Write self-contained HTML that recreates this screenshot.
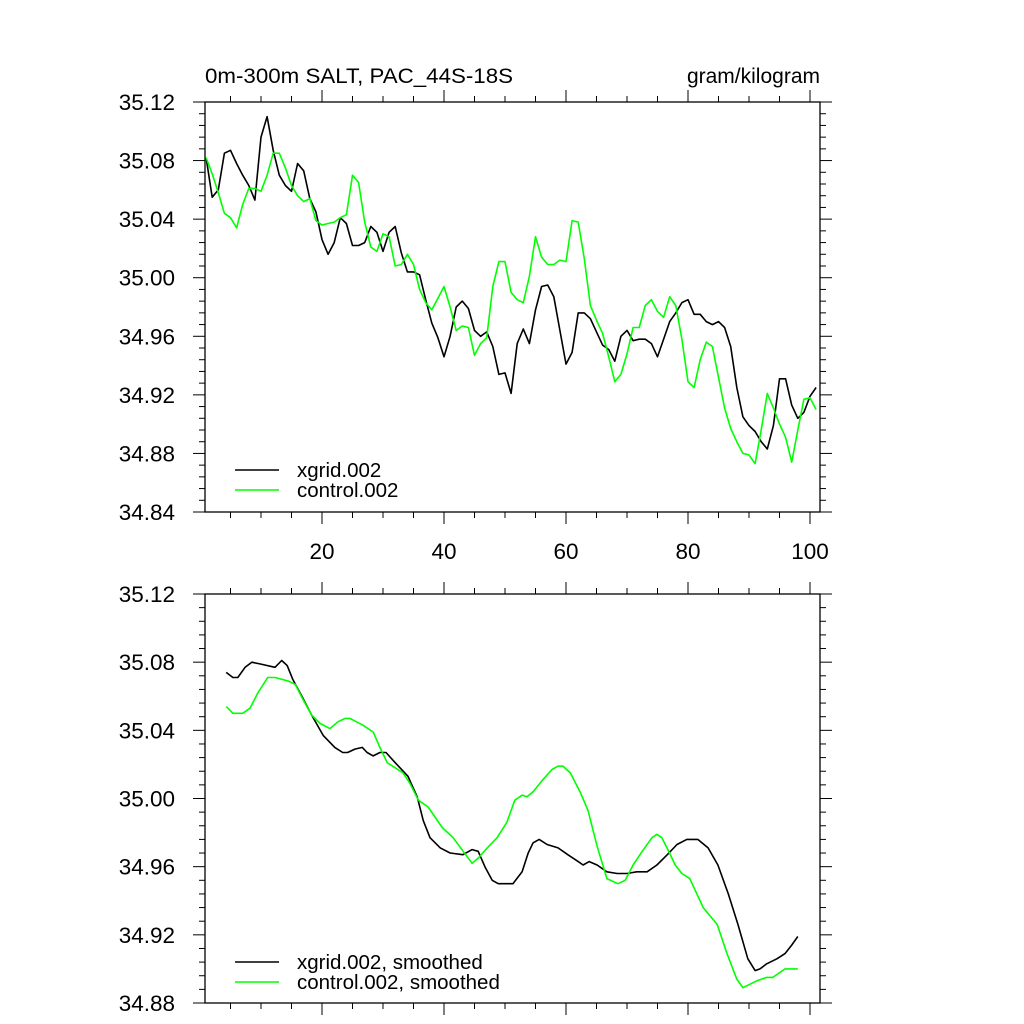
<!DOCTYPE html>
<html><head><meta charset="utf-8"><style>
body{margin:0;background:#fff}
svg{display:block}
text{font-family:"Liberation Sans",sans-serif;fill:#000}
</style></head><body>
<svg id="chart" width="1024" height="1024" viewBox="0 0 1024 1024"></svg>
<script>
const topX = [];
for (let i = 1; i <= 101; i++) topX.push(i);
const xgridRaw = [35.082,35.055,35.060,35.085,35.087,35.078,35.070,35.063,35.053,35.096,35.110,35.087,35.070,35.063,35.059,35.078,35.073,35.054,35.045,35.026,35.016,35.024,35.041,35.037,35.022,35.022,35.024,35.035,35.031,35.018,35.031,35.035,35.017,35.004,35.004,35.002,34.985,34.969,34.959,34.946,34.960,34.980,34.984,34.979,34.964,34.960,34.963,34.953,34.934,34.935,34.921,34.955,34.965,34.955,34.978,34.994,34.995,34.987,34.964,34.941,34.949,34.976,34.976,34.972,34.963,34.954,34.951,34.943,34.960,34.964,34.957,34.958,34.958,34.955,34.946,34.958,34.970,34.976,34.983,34.985,34.975,34.975,34.970,34.968,34.970,34.966,34.953,34.925,34.905,34.899,34.895,34.888,34.883,34.899,34.931,34.931,34.913,34.904,34.908,34.919,34.925];
const controlRaw = [35.082,35.071,35.058,35.044,35.041,35.034,35.050,35.061,35.061,35.059,35.070,35.085,35.085,35.075,35.063,35.056,35.052,35.054,35.039,35.036,35.037,35.038,35.041,35.043,35.070,35.065,35.038,35.021,35.018,35.030,35.028,35.008,35.009,35.016,35.009,34.992,34.983,34.978,34.986,34.994,34.980,34.964,34.967,34.966,34.947,34.955,34.959,34.994,35.011,35.011,34.990,34.985,34.983,35.001,35.028,35.014,35.009,35.009,35.012,35.011,35.039,35.038,35.013,34.981,34.971,34.962,34.946,34.929,34.934,34.948,34.966,34.966,34.981,34.985,34.977,34.973,34.987,34.981,34.958,34.929,34.925,34.944,34.956,34.953,34.932,34.911,34.897,34.888,34.880,34.879,34.873,34.896,34.921,34.911,34.900,34.891,34.874,34.896,34.917,34.918,34.910];
const xgridSmX = [4.3,5.4,6.2,7.4,8.5,9.8,12.3,13.4,14.3,15.2,16.7,18.3,20.2,22.1,23.4,24.2,25.4,26.6,27.4,28.4,29.5,30.5,32.0,34.1,35.6,36.6,37.7,39.4,41.0,43.1,44.6,45.6,46.7,47.9,48.9,50.3,51.3,52.8,53.8,54.6,55.6,56.9,58.7,60.3,62.0,62.8,63.8,65.1,66.7,68.4,70.0,71.6,73.3,74.9,76.6,78.2,79.8,81.6,83.3,84.9,86.6,88.2,89.8,91.0,91.8,92.9,94.6,95.9,97.0,98.0];
const xgridSm = [35.074,35.071,35.071,35.077,35.080,35.079,35.077,35.081,35.078,35.070,35.060,35.049,35.037,35.030,35.027,35.027,35.029,35.030,35.027,35.025,35.027,35.027,35.021,35.013,35.001,34.987,34.977,34.971,34.968,34.967,34.970,34.969,34.960,34.952,34.950,34.950,34.950,34.957,34.968,34.974,34.976,34.973,34.971,34.967,34.963,34.961,34.963,34.961,34.957,34.956,34.956,34.957,34.957,34.961,34.967,34.973,34.976,34.976,34.971,34.961,34.944,34.926,34.906,34.899,34.900,34.903,34.906,34.909,34.914,34.919];
const controlSmX = [4.3,5.4,7.0,8.2,9.5,11.1,12.3,14.4,15.6,16.9,18.3,19.7,21.3,22.6,23.8,24.6,26.7,28.4,29.5,30.7,32.0,33.3,34.4,35.8,37.4,39.7,41.5,44.6,45.6,47.1,48.7,50.3,51.6,52.8,53.6,54.6,56.2,57.7,58.7,59.5,60.7,62.3,63.6,65.1,66.7,68.5,69.7,71.0,72.5,74.1,74.9,75.7,76.7,77.9,79.0,80.3,82.5,84.8,86.4,88.0,89.0,91.3,92.9,93.9,95.9,98.0];
const controlSm = [35.054,35.050,35.050,35.053,35.062,35.071,35.071,35.069,35.067,35.058,35.049,35.044,35.041,35.045,35.047,35.047,35.043,35.039,35.030,35.021,35.018,35.015,35.009,34.999,34.995,34.983,34.977,34.962,34.965,34.971,34.977,34.986,34.999,35.002,35.001,35.004,35.011,35.017,35.019,35.019,35.015,35.004,34.993,34.972,34.953,34.950,34.952,34.961,34.969,34.977,34.979,34.977,34.970,34.961,34.956,34.953,34.936,34.926,34.909,34.894,34.889,34.893,34.895,34.895,34.900,34.900];
const yTicksTop = [34.84,34.88,34.92,34.96,35.00,35.04,35.08,35.12];
const yTicksBot = [34.88,34.92,34.96,35.00,35.04,35.08,35.12];
const xTickLabels = [20,40,60,80,100];

const NS = "http://www.w3.org/2000/svg";
const svg = document.getElementById('chart');
function mk(tag, attrs, parent) {
  const e = document.createElementNS(NS, tag);
  for (const k in attrs) e.setAttribute(k, attrs[k]);
  (parent || svg).appendChild(e);
  return e;
}
const L = 205, R = 820, XMIN = 0.82, XMAX = 101.64;
const sx = x => L + (x - XMIN) / (XMAX - XMIN) * (R - L);

function panel(name, T, B, ymin, ymax, yticks, showXLabels) {
  const g = mk('g', {});
  
  
  const sy = v => B - (v - ymin) / (ymax - ymin) * (B - T);
  const fr = mk('rect', {x: L, y: T, width: R - L, height: B - T, fill: 'none', stroke: '#000', 'stroke-width': 1.3}, g);
  
  
  for (let v = ymin; v <= ymax + 1e-9; v += 0.008) {
    const major = Math.abs(Math.round(v / 0.04) * 0.04 - v) < 1e-6;
    const len = major ? 12 : 6;
    const y = sy(v);
    mk('line', {x1: L - len, x2: L, y1: y, y2: y, stroke: '#000', 'stroke-width': 1}, g);
    mk('line', {x1: R, x2: R + len, y1: y, y2: y, stroke: '#000', 'stroke-width': 1}, g);
  }
  yticks.forEach(v => {
    const t = mk('text', {x: 175, y: sy(v) + 8, 'text-anchor': 'end', 'font-size': 22.5}, g);
    t.textContent = v.toFixed(2);
    
    
  });
  for (let x = 5; x <= 100; x += 5) {
    const major = x % 20 === 0;
    const len = major ? 12 : 6;
    const px = sx(x);
    mk('line', {x1: px, x2: px, y1: T - len, y2: T, stroke: '#000', 'stroke-width': 1}, g);
    mk('line', {x1: px, x2: px, y1: B, y2: B + len, stroke: '#000', 'stroke-width': 1}, g);
  }
  if (showXLabels) {
    xTickLabels.forEach(x => {
      const t = mk('text', {x: sx(x), y: B + 47, 'text-anchor': 'middle', 'font-size': 22.5}, g);
      t.textContent = x;
      
      
    });
  }
  return {g, sy};
}
function series(p, xs, ys, color, name) {
  const pts = xs.map((x, i) => sx(x).toFixed(1) + ',' + p.sy(ys[i]).toFixed(1)).join(' ');
  const pl = mk('polyline', {points: pts, fill: 'none', stroke: color, 'stroke-width': 1.6, 'stroke-linejoin': 'round'}, p.g);
  
  
}
function legend(p, y0, labels) {
  labels.forEach((lab, i) => {
    const y = y0 + i * 20;
    const ln = mk('line', {x1: 235, x2: 279, y1: y, y2: y, stroke: lab[1], 'stroke-width': 1.6}, p.g);
    
    
    const t = mk('text', {x: 297, y: y + 7, 'font-size': 20.5}, p.g);
    t.textContent = lab[0];
    
    
  });
}

const p1 = panel('top-panel', 102, 512, 34.84, 35.12, yTicksTop, true);
series(p1, topX, xgridRaw, '#000', 'xgrid-line');
series(p1, topX, controlRaw, '#00ff00', 'control-line');
legend(p1, 470, [['xgrid.002', '#000'], ['control.002', '#00ff00']]);
const p2 = panel('bottom-panel', 594, 1003, 34.88, 35.12, yTicksBot, false);
series(p2, xgridSmX, xgridSm, '#000', 'xgrid-smoothed-line');
series(p2, controlSmX, controlSm, '#00ff00', 'control-smoothed-line');
legend(p2, 962, [['xgrid.002, smoothed', '#000'], ['control.002, smoothed', '#00ff00']]);

const t1 = mk('text', {x: 205, y: 83, 'font-size': 21, textLength: 308, lengthAdjust: 'spacingAndGlyphs'});
t1.textContent = '0m-300m SALT, PAC_44S-18S';


const t2 = mk('text', {x: 820, y: 83, 'font-size': 21, 'text-anchor': 'end'});
t2.textContent = 'gram/kilogram';


</script>
</body></html>
